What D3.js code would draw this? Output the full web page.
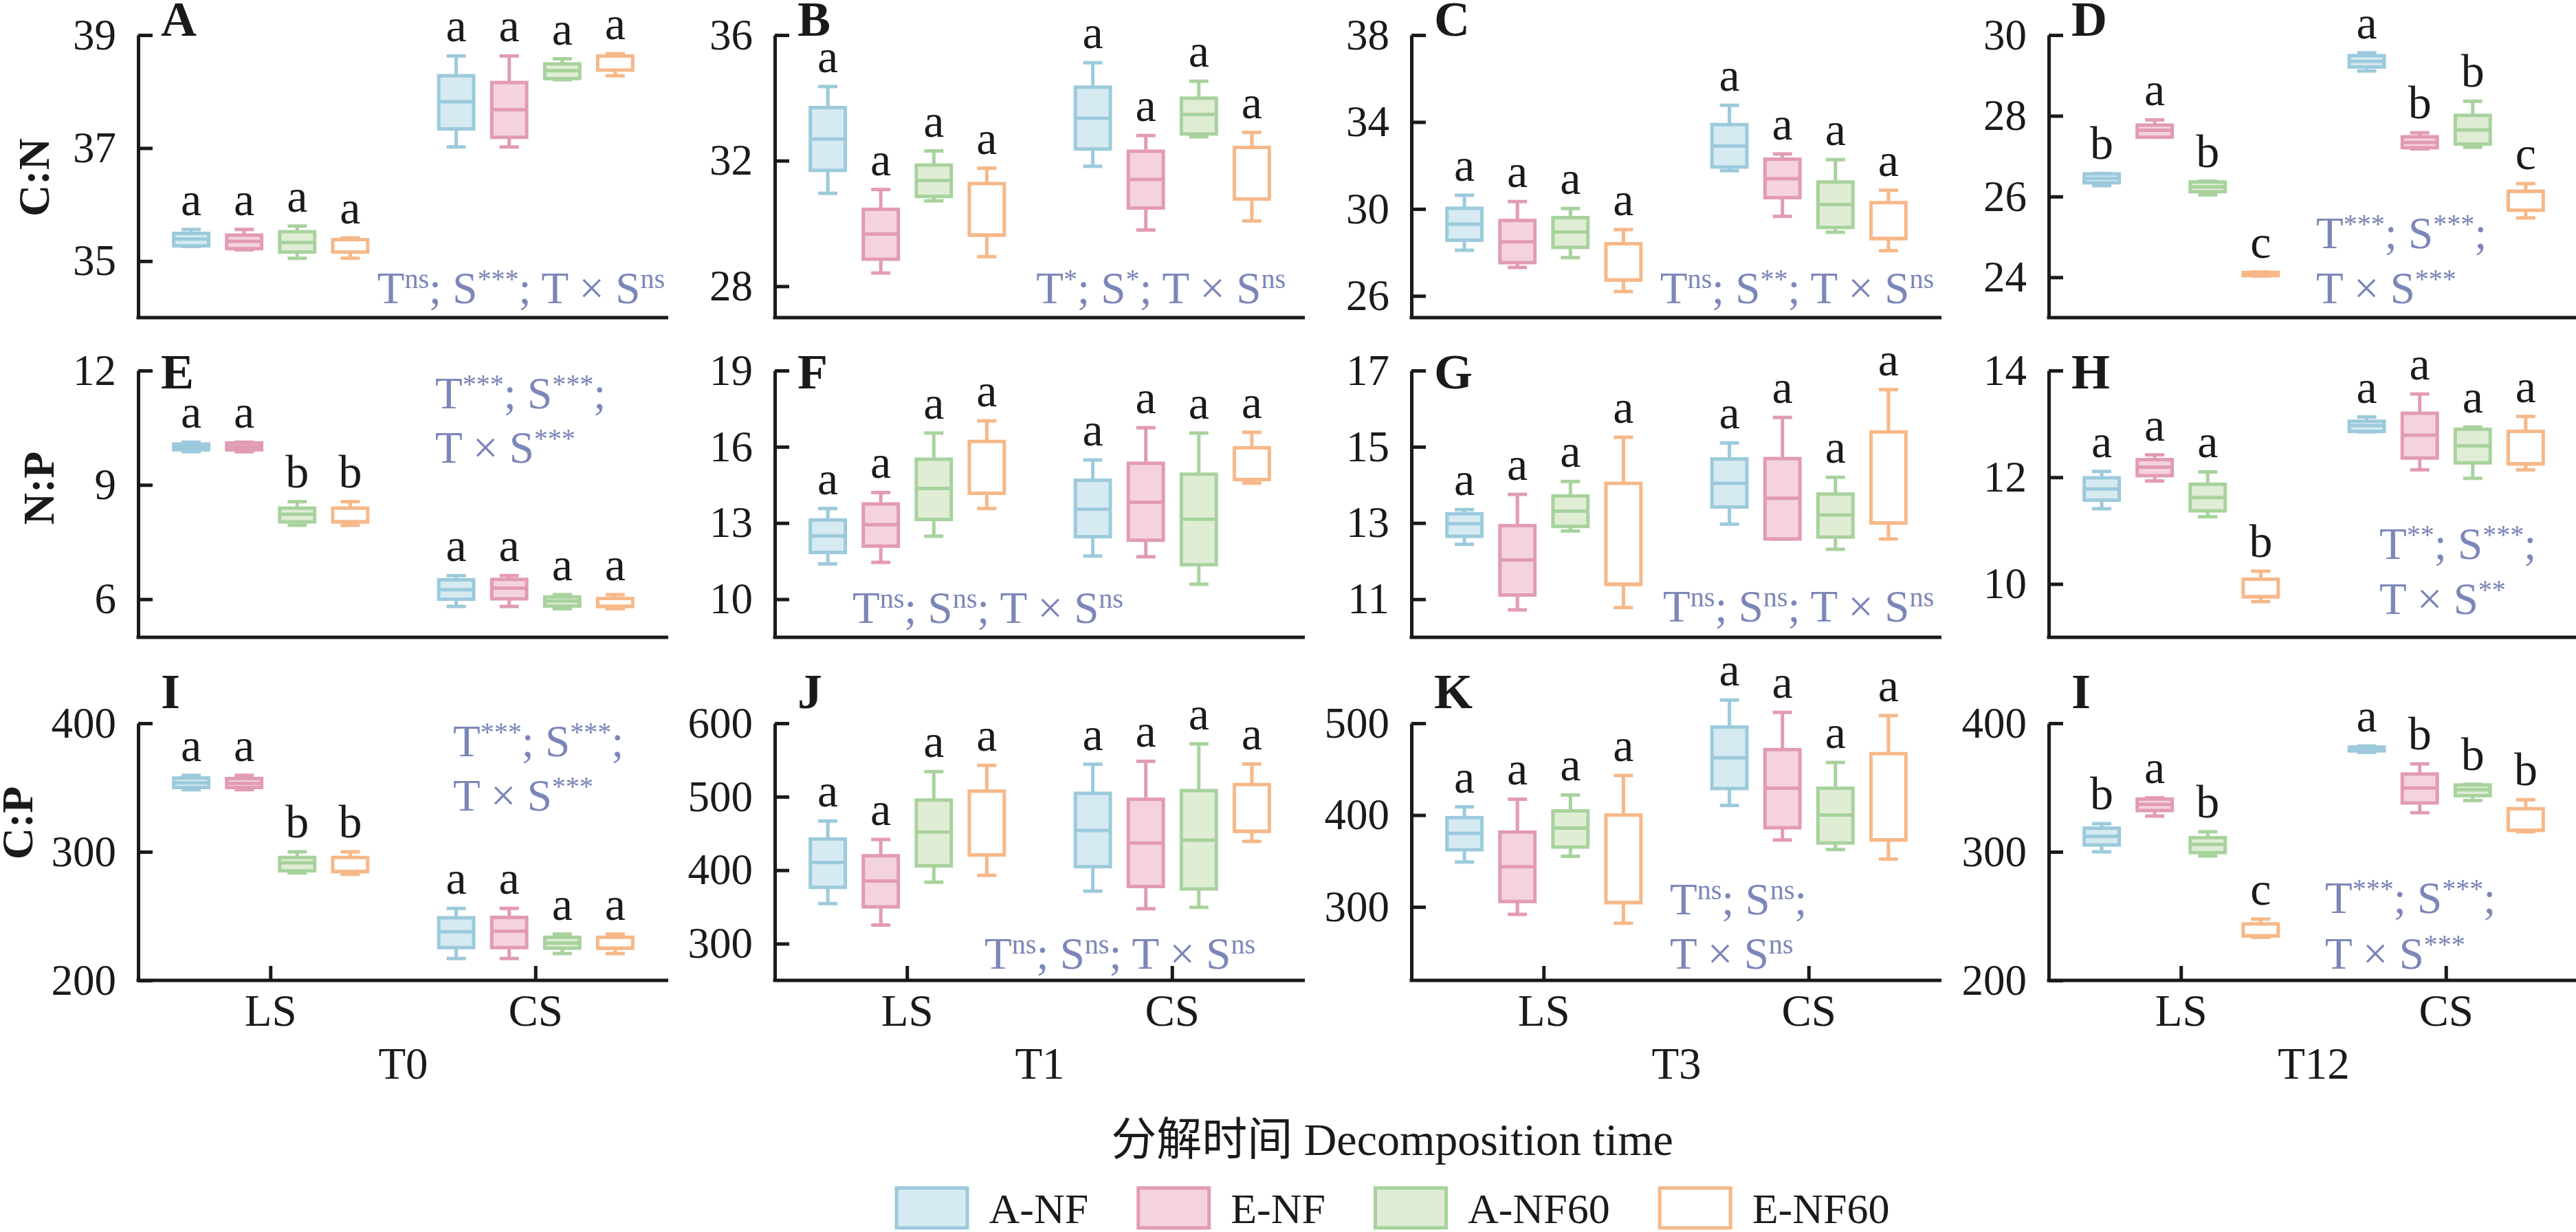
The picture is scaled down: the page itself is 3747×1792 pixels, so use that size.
<!DOCTYPE html>
<html>
<head>
<meta charset="utf-8">
<script src="https://cdn.jsdelivr.net/npm/d3@7"></script>
<style>
  body { margin: 0; background: #fff; }
  text { white-space: pre; }
</style>
</head>
<body>
<div id="chart"></div>
<script>
const sites = ["LS", "CS"];
const treatments = ["A-NF", "E-NF", "A-NF60", "E-NF60"];
const times = ["T0", "T1", "T3", "T12"];
const ratios = ["C:N", "N:P", "C:P"];
const panelLetters = ["A", "B", "C", "D", "E", "F", "G", "H", "I", "J", "K", "I"];

// each box: [min, q1, median, q3, max]; LS boxes first, then CS, in treatment order
const cnT0 = [
    [35.26, 35.27, 35.39, 35.49, 35.56], [35.2, 35.22, 35.35, 35.46, 35.56], [35.05, 35.16, 35.33, 35.52, 35.62], [35.05, 35.16, 35.38, 35.38, 35.41],
    [37.02, 37.34, 37.82, 38.28, 38.63], [37.02, 37.19, 37.68, 38.16, 38.63], [38.21, 38.23, 38.37, 38.49, 38.58], [38.28, 38.38, 38.63, 38.63, 38.67]
];
const cnT1 = [
    [30.96, 31.69, 32.69, 33.69, 34.36], [28.42, 28.86, 29.66, 30.45, 31.08], [30.72, 30.86, 31.37, 31.86, 32.31], [28.94, 29.63, 29.63, 31.27, 31.76],
    [31.82, 32.37, 33.35, 34.34, 35.12], [29.79, 30.49, 31.4, 32.3, 32.8], [32.76, 32.85, 33.47, 33.99, 34.53], [30.08, 30.78, 30.78, 32.42, 32.9]
];
const cnT3 = [
    [28.1, 28.56, 29.3, 30.03, 30.63], [27.31, 27.53, 28.49, 29.47, 30.34], [27.76, 28.23, 28.94, 29.6, 30.02], [26.2, 26.73, 26.73, 28.4, 29.05],
    [31.76, 31.93, 32.89, 33.88, 34.77], [29.66, 30.52, 31.39, 32.29, 32.53], [28.93, 29.15, 30.2, 31.24, 32.27], [28.08, 28.64, 28.64, 30.29, 30.86]
];
const cnT12 = [
    [26.27, 26.34, 26.45, 26.56, 26.57], [27.47, 27.47, 27.64, 27.77, 27.9], [26.04, 26.12, 26.24, 26.36, 26.38], [24.03, 24.04, 24.08, 24.12, 24.13],
    [29.11, 29.21, 29.35, 29.49, 29.56], [27.18, 27.21, 27.34, 27.48, 27.58], [27.22, 27.3, 27.65, 28.01, 28.36], [25.47, 25.66, 26.13, 26.13, 26.32]
];
const npT0 = [
    [9.87, 9.92, 10.0, 10.07, 10.12], [9.87, 9.92, 10.0, 10.1, 10.12], [7.94, 8.03, 8.23, 8.39, 8.56], [7.94, 8.03, 8.03, 8.39, 8.56],
    [5.81, 6.0, 6.25, 6.51, 6.62], [5.81, 6.01, 6.29, 6.52, 6.62], [5.75, 5.82, 5.95, 6.06, 6.12], [5.75, 5.81, 5.81, 6.02, 6.12]
];
const npT1 = [
    [11.39, 11.84, 12.49, 13.12, 13.57], [11.45, 12.09, 12.93, 13.75, 14.2], [12.48, 13.14, 14.36, 15.51, 16.54], [13.57, 14.17, 14.17, 16.21, 17.02],
    [11.7, 12.46, 13.54, 14.68, 15.48], [11.67, 12.32, 13.82, 15.35, 16.75], [10.59, 11.36, 13.15, 14.92, 16.54], [14.57, 14.71, 14.71, 15.96, 16.57]
];
const npT3 = [
    [12.44, 12.65, 12.98, 13.24, 13.35], [10.72, 11.11, 12.03, 12.93, 13.75], [12.79, 12.91, 13.31, 13.71, 14.09], [10.78, 11.39, 11.39, 14.04, 15.25],
    [12.97, 13.42, 14.04, 14.68, 15.1], [12.58, 12.58, 13.65, 14.69, 15.77], [12.31, 12.63, 13.21, 13.76, 14.2], [12.58, 13.0, 13.0, 15.39, 16.5]
];
const npT12 = [
    [11.41, 11.57, 11.78, 11.99, 12.11], [11.93, 12.03, 12.19, 12.33, 12.42], [11.26, 11.37, 11.62, 11.87, 12.1], [9.67, 9.76, 9.76, 10.09, 10.24],
    [12.85, 12.86, 12.97, 13.05, 13.13], [12.14, 12.36, 12.79, 13.2, 13.56], [11.98, 12.27, 12.59, 12.9, 12.94], [12.14, 12.25, 12.25, 12.86, 13.14]
];
const cpT0 = [
    [348.3, 350, 353.6, 357.4, 359.5], [348.3, 350, 353.2, 357, 359.5], [283.5, 285.2, 291.4, 295.6, 300], [282.5, 284.6, 284.6, 295.6, 300],
    [217, 225.5, 237.8, 248.7, 256], [217, 225.5, 238.2, 249, 256], [220.9, 225, 229, 233.5, 236], [220.9, 225, 225, 233.5, 236]
];
const cpT1 = [
    [354.5, 376.7, 410.4, 442.5, 466.9], [325.3, 350.1, 385.2, 419.6, 441.8], [383.7, 405.9, 451.8, 495.4, 534.2], [393, 420.7, 420.7, 507.6, 542.7],
    [371.5, 404.8, 454, 504.6, 544.2], [347.5, 377.8, 437, 496.5, 548.2], [349.4, 374.5, 441, 508.3, 571.9], [439.2, 452.9, 452.9, 516.5, 544.5]
];
const cpT3 = [
    [348.9, 362.2, 380, 397.2, 409], [291.9, 305.9, 343.7, 381.5, 417.3], [355.1, 365.2, 385.9, 404.6, 421.8], [282.2, 304.7, 304.7, 400.1, 443.1],
    [410.5, 428.9, 462.4, 495.9, 525.2], [372.9, 386.2, 429.2, 471.3, 511.9], [362.5, 369.6, 400.1, 429.2, 457.3], [352.1, 372.9, 372.9, 466.9, 508.3]
];
const cpT12 = [
    [300, 305.3, 312, 318.4, 321.9], [327.8, 332.1, 336.9, 341, 342], [296.8, 299.4, 305.7, 311, 315.6], [233.5, 234.6, 234.6, 243.9, 247.7],
    [377.4, 378.5, 380.2, 381.5, 382.3], [330.4, 338, 349.6, 360.5, 368.4], [339.9, 343.7, 348.3, 352, 352.5], [315.6, 316.7, 316.7, 333.5, 340.5]
];

const yDomains = [
    [34, 39], [27, 36], [25, 38], [23, 30],
    [5, 12], [8.5, 19], [10, 17], [9, 14],
    [200, 400], [250, 600], [220, 500], [200, 400]
];
const yTicks = [
    [35, 37, 39], [28, 32, 36], [26, 30, 34, 38], [24, 26, 28, 30],
    [6, 9, 12], [10, 13, 16, 19], [11, 13, 15, 17], [10, 12, 14],
    [200, 300, 400], [300, 400, 500, 600], [300, 400, 500], [200, 300, 400]
];
const sigLetters = [
    "aaaaaaaa", "aaaaaaaa", "aaaaaaaa", "babcabbc",
    "aabbaaaa", "aaaaaaaa", "aaaaaaaa", "aaabaaaa",
    "aabbaaaa", "aaaaaaaa", "aaaaaaaa", "babcabbb"
];
// "|" splits lines, ^{..} is a superscript
const anovaTexts = [
    "T^{ns}; S^{***}; T × S^{ns}", "T^{*}; S^{*}; T × S^{ns}", "T^{ns}; S^{**}; T × S^{ns}", "T^{***}; S^{***};|T × S^{***}",
    "T^{***}; S^{***};|T × S^{***}", "T^{ns}; S^{ns}; T × S^{ns}", "T^{ns}; S^{ns}; T × S^{ns}", "T^{**}; S^{***};|T × S^{**}",
    "T^{***}; S^{***};|T × S^{***}", "T^{ns}; S^{ns}; T × S^{ns}", "T^{ns}; S^{ns};|T × S^{ns}", "T^{***}; S^{***};|T × S^{***}"
];

const allStats = [cnT0, cnT1, cnT3, cnT12, npT0, npT1, npT3, npT12, cpT0, cpT1, cpT3, cpT12];

// layout
const width = 3747, height = 1792;
const colX = [201, 1127, 2053, 2980];
const panelW = 771;
const rowTop = [51, 539, 1052];
const rowBottom = [462, 927, 1426];
const letterY = [52, 565, 1030];
const ratioLabelPos = [[49, 258], [56, 710], [25, 1197]];
// x offset from the y axis, baseline offsets from the x axis
const anovaLayout = [
    { x: 766, y: [-21], anchor: "end" }, { x: 743, y: [-21], anchor: "end" }, { x: 760, y: [-21], anchor: "end" }, { x: 389, y: [-101, -21], anchor: "start" },
    { x: 432, y: [-333, -254], anchor: "start" }, { x: 113, y: [-21], anchor: "start" }, { x: 760, y: [-23], anchor: "end" }, { x: 481, y: [-114, -34], anchor: "start" },
    { x: 458, y: [-326, -247], anchor: "start" }, { x: 699, y: [-17], anchor: "end" }, { x: 376, y: [-96, -17], anchor: "start" }, { x: 402, y: [-98, -17], anchor: "start" }
];

const strokeColors = ["#9ccadc", "#e29bb4", "#a8d29d", "#f6b889"];
const fillColors = ["#d6eaf1", "#f4d3de", "#e0edd5", "#ffffff"];
const anovaColor = "#7c86b8";
const ink = "#1a1a1a";
const serif = "'Liberation Serif', 'Times New Roman', 'Noto Sans CJK SC', serif";

const svg = d3.select("#chart")
    .append("svg")
    .attr("width", width)
    .attr("height", height)
    .style("font-family", serif);

svg.append("rect").attr("width", width).attr("height", height).attr("fill", "#fff");

const siteX = d3.scaleBand().domain(sites).range([0, panelW]);
const trtX = d3.scaleBand()
    .domain(treatments)
    .range([0, siteX.bandwidth()])
    .paddingInner(0.34)
    .paddingOuter(0.67);

const boxW = trtX.bandwidth();
const capW = 28;

function addRichText(textSel, str, sup) {
    let pending = 0;
    str.split(/(\^\{[^}]*\})/).forEach(part => {
        if (!part) return;
        if (part.startsWith("^{")) {
            textSel.append("tspan").attr("dy", pending - sup.raise).attr("font-size", sup.size).text(part.slice(2, -1));
            pending = sup.raise;
        } else {
            textSel.append("tspan").attr("dy", pending).text(part);
            pending = 0;
        }
    });
}

allStats.forEach((stats, i) => {
    const r = Math.floor(i / 4), c = i % 4;
    const g = svg.append("g").attr("transform", "translate(" + colX[c] + ",0)");

    const y = d3.scaleLinear().domain(yDomains[i]).range([rowBottom[r], rowTop[r]]);

    const boxes = stats.map((s, k) => ({
        site: sites[Math.floor(k / 4)],
        trt: treatments[k % 4],
        t: k % 4,
        min: s[0], q1: s[1], med: s[2], q3: s[3], max: s[4],
        letter: sigLetters[i][k]
    }));
    const cx = d => siteX(d.site) + trtX(d.trt) + boxW / 2;

    // y axis, ticks pointing inward
    const yAxis = g.append("g")
        .call(d3.axisLeft(y)
            .tickValues(yTicks[i])
            .tickFormat(d3.format("d"))
            .tickSizeInner(-21)
            .tickSizeOuter(0)
            .tickPadding(32));
    yAxis.select(".domain").attr("stroke", ink).attr("stroke-width", 5);
    yAxis.selectAll(".tick line").attr("stroke", ink).attr("stroke-width", 5);
    yAxis.selectAll(".tick text")
        .attr("fill", ink)
        .attr("font-size", 63)
        .attr("font-family", serif);

    // x axis (ticks and site labels only on the bottom row)
    const xAxis = g.append("g")
        .attr("transform", "translate(0," + rowBottom[r] + ")")
        .call(d3.axisBottom(siteX)
            .tickSizeInner(r == 2 ? -21 : 0)
            .tickSizeOuter(0)
            .tickPadding(20));
    xAxis.select(".domain").attr("stroke", ink).attr("stroke-width", 5).attr("d", "M-2.5,0H" + panelW);
    xAxis.selectAll(".tick line").attr("stroke", ink).attr("stroke-width", 5);
    xAxis.selectAll(".tick text")
        .attr("fill", ink)
        .attr("font-size", 65)
        .attr("font-family", serif)
        .attr("dy", "0.71em")
        .style("display", r == 2 ? null : "none");

    if (r == 2) {
        g.append("text")
            .attr("x", panelW / 2)
            .attr("y", rowBottom[r] + 143)
            .attr("text-anchor", "middle")
            .attr("font-size", 65)
            .attr("fill", ink)
            .text(times[c]);
    }

    const marks = g.append("g").selectAll("g")
        .data(boxes)
        .enter().append("g")
        .attr("stroke", d => strokeColors[d.t])
        .attr("stroke-width", 5);

    // whiskers
    marks.append("line")
        .attr("x1", cx).attr("x2", cx)
        .attr("y1", d => y(d.max)).attr("y2", d => y(d.q3));
    marks.append("line")
        .attr("x1", cx).attr("x2", cx)
        .attr("y1", d => y(d.q1)).attr("y2", d => y(d.min));
    marks.append("line")
        .attr("x1", d => cx(d) - capW / 2).attr("x2", d => cx(d) + capW / 2)
        .attr("y1", d => y(d.max)).attr("y2", d => y(d.max));
    marks.append("line")
        .attr("x1", d => cx(d) - capW / 2).attr("x2", d => cx(d) + capW / 2)
        .attr("y1", d => y(d.min)).attr("y2", d => y(d.min));

    // box + median
    marks.append("rect")
        .attr("x", d => cx(d) - boxW / 2)
        .attr("width", boxW)
        .attr("y", d => y(d.q3))
        .attr("height", d => Math.max(1, y(d.q1) - y(d.q3)))
        .attr("fill", d => fillColors[d.t]);
    marks.append("line")
        .attr("x1", d => cx(d) - boxW / 2).attr("x2", d => cx(d) + boxW / 2)
        .attr("y1", d => y(d.med)).attr("y2", d => y(d.med));

    // significance letters
    g.append("g").selectAll("text")
        .data(boxes)
        .enter().append("text")
        .attr("x", cx)
        .attr("y", d => y(d.max) - 21)
        .attr("text-anchor", "middle")
        .attr("font-size", 68)
        .attr("fill", ink)
        .text(d => d.letter);

    // panel letter
    g.append("text")
        .attr("x", 33)
        .attr("y", letterY[r])
        .attr("font-size", 72)
        .attr("font-weight", "bold")
        .attr("fill", ink)
        .text(panelLetters[i]);

    // two-way ANOVA note
    const lay = anovaLayout[i];
    anovaTexts[i].split("|").forEach((line, li) => {
        const t = g.append("text")
            .attr("x", lay.x)
            .attr("y", rowBottom[r] + lay.y[li])
            .attr("text-anchor", lay.anchor)
            .attr("font-size", 65)
            .attr("fill", anovaColor);
        addRichText(t, line, { size: 40, raise: 22 });
    });
});

// y labels
ratios.forEach((lab, r) => {
    svg.append("text")
        .attr("transform", "translate(" + ratioLabelPos[r][0] + "," + ratioLabelPos[r][1] + ") rotate(-90)")
        .attr("text-anchor", "middle")
        .attr("dy", "0.35em")
        .attr("font-size", 64)
        .attr("font-weight", "bold")
        .attr("fill", ink)
        .text(lab);
});

// x title
const centerX = 2025;
svg.append("text")
    .attr("x", centerX)
    .attr("y", 1680)
    .attr("text-anchor", "middle")
    .attr("font-size", 66)
    .attr("fill", ink)
    .text("分解时间 Decomposition time");

// legend
const legend = svg.append("g");
const keyW = 108, keyH = 58, keyGap = 29, itemGap = 70;
let lx = 0;
treatments.forEach((name, t) => {
    const item = legend.append("g").attr("transform", "translate(" + lx + ",0)");
    item.append("rect")
        .attr("x", 2.5).attr("y", 1728)
        .attr("width", keyW - 5).attr("height", keyH)
        .attr("fill", fillColors[t])
        .attr("stroke", strokeColors[t])
        .attr("stroke-width", 5);
    const label = item.append("text")
        .attr("x", keyW + keyGap)
        .attr("y", 1779)
        .attr("font-size", 62)
        .attr("fill", ink)
        .text(name);
    lx += keyW + keyGap + label.node().getComputedTextLength() + itemGap;
});
legend.attr("transform", "translate(" + (centerX - (lx - itemGap) / 2) + ",0)");
</script>
</body>
</html>
